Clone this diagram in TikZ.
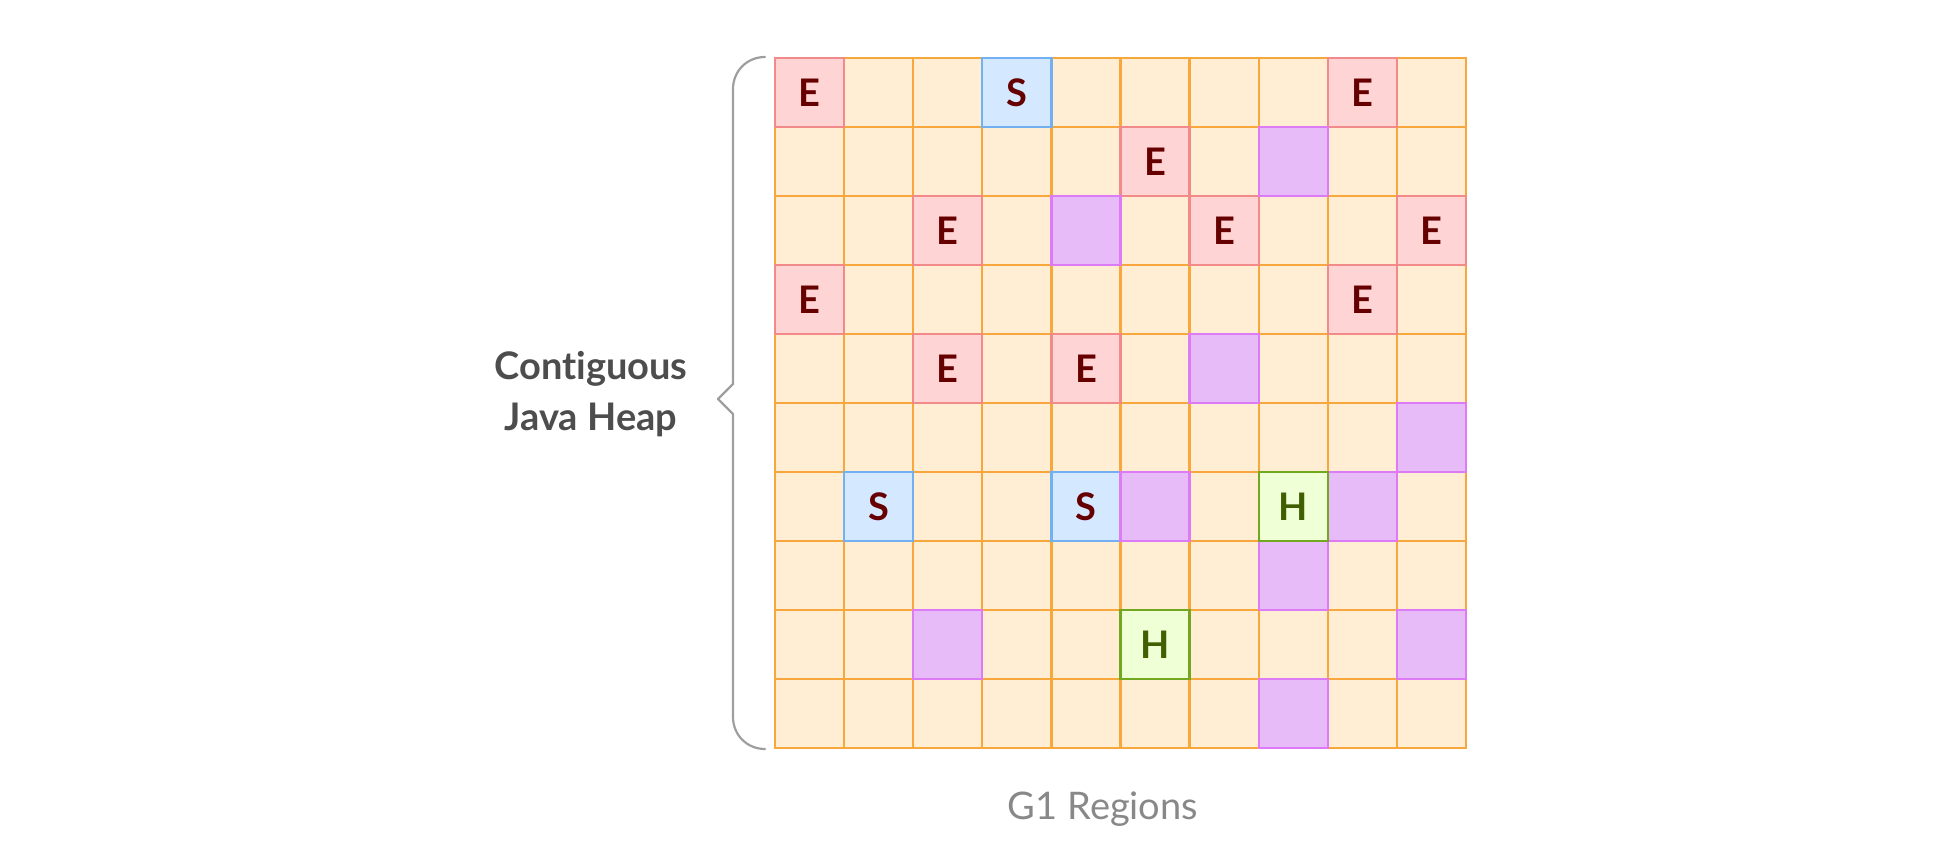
\documentclass[tikz,border=0pt]{standalone}
\usepackage{fontspec}
\setmainfont{Lato}[Ligatures={CommonOff}]
\definecolor{gridstroke}{HTML}{F7A73C}
\definecolor{gridfill}{HTML}{FFEDD4}
\definecolor{efill}{HTML}{FFD4D4}
\definecolor{estroke}{HTML}{F28A8A}
\definecolor{sfill}{HTML}{D4E8FF}
\definecolor{sstroke}{HTML}{72B0F2}
\definecolor{pfill}{HTML}{E6BBF7}
\definecolor{pstroke}{HTML}{DD7BF7}
\definecolor{hfill}{HTML}{EFFFD6}
\definecolor{hstroke}{HTML}{72A820}
\definecolor{eltext}{HTML}{660000}
\definecolor{hltext}{HTML}{3F5F00}
\definecolor{labtext}{HTML}{4D4D4D}
\definecolor{captext}{HTML}{888888}
\definecolor{bracecol}{HTML}{9E9E9E}
\tikzset{
  cell/.style={draw=gridstroke, fill=gridfill, line width=1.15pt, minimum size=34.55pt, inner sep=0pt, outer sep=0pt},
  ecell/.style={cell, draw=estroke, fill=efill, text=eltext, font=\fontsize{19}{19}\selectfont\bfseries},
  scell/.style={cell, draw=sstroke, fill=sfill, text=eltext, font=\fontsize{19}{19}\selectfont\bfseries},
  pcell/.style={cell, draw=pstroke, fill=pfill},
  hcell/.style={cell, draw=hstroke, fill=hfill, text=hltext, font=\fontsize{19}{19}\selectfont\bfseries},
  bracket/.style={draw=bracecol, line width=1.1pt, line join=round, line cap=round},
  sidelabel/.style={text=labtext, align=center, font=\fontsize{19}{25.5}\selectfont\bfseries},
  caption/.style={text=captext, font=\fontsize{19}{19}\selectfont}
}
\begin{document}
\begin{tikzpicture}[x=0.5pt,y=-0.5pt]
\useasboundingbox (0,0) rectangle (1959,861);
% plain grid
\foreach \r in {0,...,9}{
  \foreach \c in {0,...,9}{
    \node[cell] (g-\r-\c) at ({775+69.1*\c+34.55},{58+69*\r+34.5}) {};
  }
}
% eden regions
\foreach \r/\c in {0/0,0/8,1/5,2/2,2/6,2/9,3/0,3/8,4/2,4/4}{
  \node[ecell] (e-\r-\c) at ({775+69.1*\c+34.55},{58+69*\r+34.5}) {E};
}
% survivor regions
\foreach \r/\c in {0/3,6/1,6/4}{
  \node[scell] (s-\r-\c) at ({775+69.1*\c+34.55},{58+69*\r+34.5}) {S};
}
% other (purple) regions
\foreach \r/\c in {1/7,2/4,4/6,5/9,6/5,6/8,7/7,8/2,8/9,9/7}{
  \node[pcell] (p-\r-\c) at ({775+69.1*\c+34.55},{58+69*\r+34.5}) {};
}
% humongous regions
\foreach \r/\c in {6/7,8/5}{
  \node[hcell] (h-\r-\c) at ({775+69.1*\c+34.55},{58+69*\r+34.5}) {H};
}
% brace
\draw[bracket] (765,57) .. controls (747,57) and (733,71) .. (733,89)
  -- (733,384) -- (718,399) -- (733,414) -- (733,717)
  .. controls (733,735) and (747,749) .. (765,749);
% labels
\node[sidelabel] (heaplabel) at (591,394) {Contiguous\\Java Heap};
\node[caption] (caption) at (1103,809) {G1 Regions};
\end{tikzpicture}
\end{document}
